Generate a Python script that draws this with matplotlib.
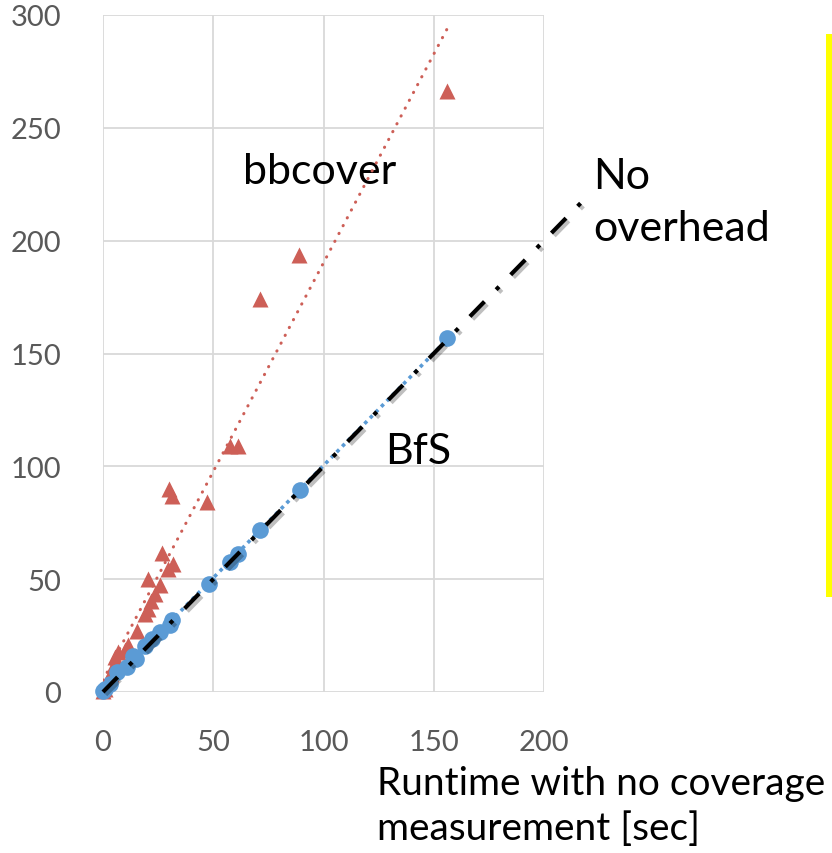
import matplotlib
matplotlib.use("Agg")
import matplotlib.pyplot as plt
import matplotlib.patheffects as pe
from matplotlib.patches import Rectangle
import numpy as np

plt.rcParams["font.family"] = ["Lato", "DejaVu Sans"]

# --- data ---
bbcover_x = [0, 1, 2.4, 3.5, 5, 5.5, 7, 10, 11.4, 15.3, 19, 20.6, 20.6, 21.8, 23.6,
             25.9, 26.7, 29.5, 30, 31.4, 31.6, 47.3, 57.7, 61.4, 71.4, 89, 155.9]
bbcover_y = [0.5, 1.5, 5.8, 8, 12, 15.5, 17.7, 18.5, 21, 27, 34.6, 36.9, 50.2, 40.5, 43.5,
             47.2, 61.5, 54.6, 90, 87, 56.8, 84.4, 108.8, 108.8, 174, 193.6, 266.4]

bfs_x = [0, 1, 3, 6.2, 10.9, 13.8, 15, 19, 22, 25.9, 30.5, 31.4, 47.9, 57.5, 61.4,
         71.4, 89.3, 155.9]
bfs_y = [0.5, 1.5, 3.5, 8.7, 11.1, 16.1, 14.7, 20.6, 23.5, 26.5, 29.5, 32, 48, 57.6,
         61.3, 71.6, 89.4, 156.9]

no_overhead = [0, 217]
x_ticks = [0, 50, 100, 150, 200]
y_ticks = [0, 50, 100, 150, 200, 250, 300]

RED = "#CD5F57"
BLUE = "#5B9BD5"
TICK = "#595959"
GRID = "#D9D9D9"


def trend(x, y):
    # linear trendline over the data range, like the spreadsheet's
    k, b = np.polyfit(x, y, 1)
    xs = np.array([0, max(x)])
    return xs, k * xs + b


fig = plt.figure(figsize=(8.32, 8.54), dpi=100)
ax = fig.add_axes([103 / 832, 1 - 693 / 854, (544 - 103) / 832, (693 - 16) / 854])

ax.set_xlim(0, 200)
ax.set_ylim(0, 300)
ax.set_xticks(x_ticks)
ax.set_yticks(y_ticks)
ax.grid(True, color=GRID, lw=1.3)
ax.set_axisbelow(True)
for s in ax.spines.values():
    s.set_visible(False)
ax.tick_params(length=0, labelsize=21, labelcolor=TICK)
ax.tick_params(axis="y", pad=30)
ax.tick_params(axis="x", pad=27)

ax.plot(bbcover_x, bbcover_y, ls="none", marker="^", ms=11.5, color=RED,
        mec="none", zorder=3, clip_on=False)
ax.plot(bfs_x, bfs_y, ls="none", marker="o", ms=12, color=BLUE,
        mec="none", zorder=4, clip_on=False)

tx, ty = trend(bbcover_x, bbcover_y)
ax.plot(tx, ty, color=RED, lw=2.2, ls=(0, (0.1, 2.8)), dash_capstyle="round", zorder=5)
tx, ty = trend(bfs_x, bfs_y)
ax.plot(tx, ty, color=BLUE, lw=2.6, ls=(0, (1, 1.2)), dash_capstyle="butt", zorder=5)

ax.plot(no_overhead, no_overhead, color="black", lw=3, ls=(0, (5, 4, 1, 4)),
        dash_capstyle="butt", zorder=6, clip_on=False,
        path_effects=[pe.SimpleLineShadow(offset=(2, -2), shadow_color="k", alpha=0.25),
                      pe.Normal()])

ax.text(98.4, 230.8, "bbcover", fontsize=31, ha="center", va="center")
ax.text(142.9, 106.8, "BfS", fontsize=31, ha="center", va="center")
ax.text(222.5, 237, "No\noverhead", fontsize=31, ha="left", va="top",
        linespacing=1.45, clip_on=False)

fig.text(377 / 832, 1 - 766 / 854, "Runtime with no coverage\nmeasurement [sec]",
         fontsize=28, ha="left", va="top", linespacing=1.3)

fig.add_artist(Rectangle((826 / 832, 1 - 598 / 854), 6 / 832, (598 - 35) / 854,
                         transform=fig.transFigure, color="#FFFF00", lw=0))

fig.savefig("out.png", dpi=100)
